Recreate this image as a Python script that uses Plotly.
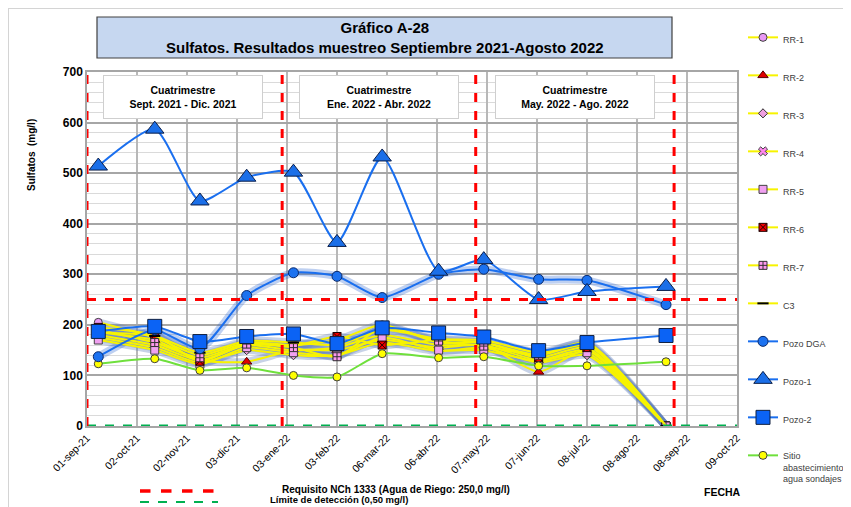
import plotly.graph_objects as go

# fechas de muestreo
fechas = ['2021-09-08', '2021-10-13', '2021-11-10', '2021-12-09', '2022-01-07', '2022-02-03',
          '2022-03-03', '2022-04-07', '2022-05-05', '2022-06-08', '2022-07-08', '2022-08-26']

rr1 = [205, 175, 140, 165, 160, 170, 200, 165, 165, 140, 160, 0]
rr2 = [185, 170, 130, 127, 150, 150, 170, 155, 160, 107, 150, 0]
rr3 = [175, 155, 125, 150, 140, 140, 165, 148, 155, 125, 140, 0]
rr4 = [180, 160, 130, 160, 150, 155, 180, 160, 160, 130, 150, 0]
rr5 = [170, 150, 122, 155, 145, 140, 175, 150, 150, 128, 145, 0]
rr6 = [195, 180, 128, 163, 158, 177, 160, 170, 165, 135, 155, 0]
rr7 = [190, 165, 135, 162, 155, 137, 195, 168, 158, 140, 165, 0]
c3 = [185, 178, 145, 168, 165, 160, 190, 172, 170, 145, 162, 0]
pozo_dga = [137, 190, 153, 258, 303, 296, 254, 300, 310, 290, 288, 240]
pozo1 = [514, 587, 445, 492, 502, 363, 532, 306, 329, 250, 266, 276]
pozo2 = [187, 197, 167, 177, 182, 163, 194, 184, 176, 149, 165, 179]
sitio = [123, 133, 110, 115, 100, 97, 143, 135, 137, 119, 119, 127]

tick_fechas = ['2021-09-01', '2021-10-02', '2021-11-02', '2021-12-03', '2022-01-03', '2022-02-03',
               '2022-03-06', '2022-04-06', '2022-05-07', '2022-06-07', '2022-07-08', '2022-08-08',
               '2022-09-08', '2022-10-09']
tick_textos = ['01-sep-21', '02-oct-21', '02-nov-21', '03-dic-21', '03-ene-22', '03-feb-22',
               '06-mar-22', '06-abr-22', '07-may-22', '07-jun-22', '08-jul-22', '08-ago-22',
               '08-sep-22', '09-oct-22']
limites_cuatrimestre = ['2021-09-01', '2021-12-31', '2022-04-30', '2022-08-31']
cuatrimestres = ['Cuatrimestre<br>Sept. 2021 - Dic. 2021',
                 'Cuatrimestre<br>Ene. 2022 - Abr. 2022',
                 'Cuatrimestre<br>May. 2022 - Ago. 2022']
requisito = 250.0
limite_deteccion = 0.5

# la pagina deja 8 px de margen en el body
OFF = 8
W, H = 851 - OFF, 507 - OFF
L, R, T, B = 87, 737, 72, 426   # area de trazado (pixeles de la pantalla)


def px(x):
    return (x - L) / (R - L)


def py(y):
    return (B - y) / (B - T)


FONT = 'Liberation Sans, Arial, sans-serif'
AMARILLO = '#f7f300'
AZUL = '#1a6fef'

rr_series = [
    ('RR-1', rr1, dict(symbol='circle', size=8, color='#e999f5', line=dict(color='#404040', width=1))),
    ('RR-2', rr2, dict(symbol='triangle-up', size=9, color='#e00000', line=dict(color='#5a0000', width=1))),
    ('RR-3', rr3, dict(symbol='diamond', size=7, color='#f0a0e0', line=dict(color='#303030', width=1))),
    ('RR-4', rr4, dict(symbol='x', size=8, color='#ff88ee', line=dict(color='#404040', width=1))),
    ('RR-5', rr5, dict(symbol='square', size=8, color='#f0a0f0', line=dict(color='#404040', width=1))),
    ('RR-6', rr6, dict(symbol='square-x', size=8, color='#ee0000', line=dict(color='#200000', width=1))),
    ('RR-7', rr7, dict(symbol='square-cross', size=8, color='#ff99ee', line=dict(color='#303030', width=1))),
    ('C3', c3, dict(symbol='line-ew', size=8, color='#000000', line=dict(color='#000000', width=2))),
]

fig = go.Figure()

# sombras (efecto resplandor)
for name, vals, mk in rr_series:
    fig.add_trace(go.Scatter(x=fechas, y=vals, mode='lines', showlegend=False, hoverinfo='skip',
                             line=dict(color='rgba(95,125,185,0.35)', width=8, shape='spline', smoothing=0.6)))
fig.add_trace(go.Scatter(x=fechas, y=pozo_dga, mode='lines', showlegend=False, hoverinfo='skip',
                         line=dict(color='rgba(40,100,210,0.30)', width=8, shape='spline', smoothing=0.6)))

for i, (name, vals, mk) in enumerate(rr_series):
    fig.add_trace(go.Scatter(x=fechas, y=vals, name=name, mode='lines+markers', legendgroup=name,
                             line=dict(color=AMARILLO, width=2, shape='spline', smoothing=0.6),
                             marker=mk))

fig.add_trace(go.Scatter(x=fechas, y=sitio, name='Sitio<br>abastecimiento<br>agua sondajes',
                         legendgroup='sitio', legendrank=1012, mode='lines+markers',
                         line=dict(color='#6fe03c', width=2, shape='spline', smoothing=0.6),
                         marker=dict(symbol='circle', size=8, color='#ffff00', line=dict(color='#404040', width=1))))
fig.add_trace(go.Scatter(x=fechas, y=pozo_dga, name='Pozo DGA', legendgroup='dga', legendrank=1009,
                         mode='lines+markers',
                         line=dict(color=AZUL, width=2, shape='spline', smoothing=0.6),
                         marker=dict(symbol='circle', size=10, color='#1c72f0', line=dict(color='#0a2a6b', width=1))))
fig.add_trace(go.Scatter(x=fechas, y=pozo1, name='Pozo-1', legendgroup='p1', legendrank=1010,
                         mode='lines+markers',
                         line=dict(color=AZUL, width=2, shape='spline', smoothing=0.6),
                         marker=dict(symbol='triangle-up', size=16, color='#1b6fe8', line=dict(color='#0a1e4a', width=1))))
fig.add_trace(go.Scatter(x=fechas, y=pozo2, name='Pozo-2', legendgroup='p2', legendrank=1011,
                         mode='lines+markers',
                         line=dict(color=AZUL, width=2, shape='spline', smoothing=0.6),
                         marker=dict(symbol='square', size=14, color='#0b63f5', line=dict(color='#102040', width=1))))

shapes = []
# requisito y limite de deteccion
shapes.append(dict(type='line', xref='paper', yref='y', x0=0, x1=1, y0=requisito, y1=requisito,
                   line=dict(color='#ff0000', width=3, dash='dash')))
shapes.append(dict(type='line', xref='paper', yref='y', x0=0, x1=1, y0=limite_deteccion, y1=limite_deteccion,
                   line=dict(color='#00b050', width=2.5, dash='dash')))
for f in limites_cuatrimestre:
    shapes.append(dict(type='line', xref='x', yref='paper', x0=f, x1=f, y0=0, y1=1,
                       line=dict(color='#ff0000', width=3, dash='dash')))
# recuadro del titulo
shapes.append(dict(type='rect', xref='paper', yref='paper', x0=px(97), x1=px(672), y0=py(58), y1=py(17),
                   fillcolor='#c6d7f0', line=dict(color='#404040', width=1.2), layer='below'))
# leyenda inferior
shapes.append(dict(type='line', xref='paper', yref='paper', x0=px(140), x1=px(218), y0=py(491), y1=py(491),
                   line=dict(color='#ff0000', width=3.5, dash='dash')))
shapes.append(dict(type='line', xref='paper', yref='paper', x0=px(140), x1=px(218), y0=py(502), y1=py(502),
                   line=dict(color='#00b050', width=2, dash='dash')))
# borde exterior
shapes.append(dict(type='line', xref='paper', yref='paper', x0=px(8), x1=px(851), y0=py(8.5), y1=py(8.5),
                   line=dict(color='#d4d4d4', width=1)))
shapes.append(dict(type='line', xref='paper', yref='paper', x0=px(8.5), x1=px(8.5), y0=py(8), y1=py(507),
                   line=dict(color='#d4d4d4', width=1)))

annotations = []
annotations.append(dict(xref='paper', yref='paper', x=px(384.5), y=py(37.5), xanchor='center', yanchor='middle',
                        showarrow=False,
                        text='<b>Gráfico A-28</b><br><b>Sulfatos. Resultados muestreo Septiembre 2021-Agosto 2022</b>',
                        font=dict(family=FONT, size=15, color='#000000'), align='center'))
for cx, txt in zip([183, 379, 574.5], cuatrimestres):
    annotations.append(dict(xref='paper', yref='paper', x=px(cx), y=py(97), xanchor='center', yanchor='middle',
                            showarrow=False,
                            text='<b>' + txt.replace('<br>', '</b><br><b>') + '</b>',
                            width=156, height=40, bgcolor='#ffffff', bordercolor='#cfcfcf', borderwidth=1,
                            font=dict(family=FONT, size=10.5, color='#000000'), align='center'))
annotations.append(dict(xref='paper', yref='paper', x=px(280), y=py(489.5), xanchor='left', yanchor='middle',
                        showarrow=False, text='<b>Requisito NCh 1333 (Agua de Riego: 250,0 mg/l)</b>',
                        font=dict(family=FONT, size=10, color='#000000')))
annotations.append(dict(xref='paper', yref='paper', x=px(268), y=py(507.5), xanchor='left', yanchor='bottom',
                        showarrow=False, text='<b>Límite de detección (0,50 mg/l)</b>',
                        font=dict(family=FONT, size=9.5, color='#000000')))
annotations.append(dict(xref='paper', yref='paper', x=px(722), y=py(492), xanchor='center', yanchor='middle',
                        showarrow=False, text='<b>FECHA</b>', font=dict(family=FONT, size=10.5, color='#000000')))
annotations.append(dict(xref='paper', yref='paper', x=px(31), y=py(155), xanchor='center', yanchor='middle',
                        showarrow=False, textangle=-90,
                        text='<b>Sulfatos  (mg/l)</b>', font=dict(family=FONT, size=10, color='#000000')))

fig.update_layout(
    width=W, height=H,
    margin=dict(l=L - OFF, r=W - (R - OFF), t=T - OFF, b=H - (B - OFF), autoexpand=False),
    paper_bgcolor='#ffffff', plot_bgcolor='#ffffff',
    showlegend=True,
    legend=dict(xref='container', yref='container', x=(743 - OFF) / W, y=1 - (25 - OFF) / H,
                xanchor='left', yanchor='top', traceorder='grouped', valign='top',
                tracegroupgap=19, itemwidth=30, itemsizing='trace', maxheight=1,
                font=dict(family=FONT, size=9, color='#404040'), bgcolor='rgba(0,0,0,0)'),
    shapes=shapes,
    annotations=annotations,
)
fig.update_xaxes(type='date', range=['2021-09-01', '2022-10-09'], tickvals=tick_fechas, ticktext=tick_textos,
                 tickangle=-45, tickfont=dict(family=FONT, size=10.5, color='#000000'),
                 tickprefix='<b>', ticksuffix='</b>',
                 showgrid=True, gridcolor='#b8b8b8', gridwidth=1.5,
                 showline=True, linecolor='#a6a6a6', linewidth=1.5, mirror=True, zeroline=False)
fig.update_yaxes(range=[0, 700], dtick=100, tickfont=dict(family=FONT, size=12, color='#000000'),
                 tickprefix='<b>', ticksuffix='</b>',
                 showgrid=True, gridcolor='#a6a6a6', gridwidth=1.5,
                 minor=dict(dtick=20, showgrid=True, gridcolor='#dadada', gridwidth=1),
                 showline=True, linecolor='#a6a6a6', linewidth=1.5, mirror=True, zeroline=False)

fig.write_html('out.html')
